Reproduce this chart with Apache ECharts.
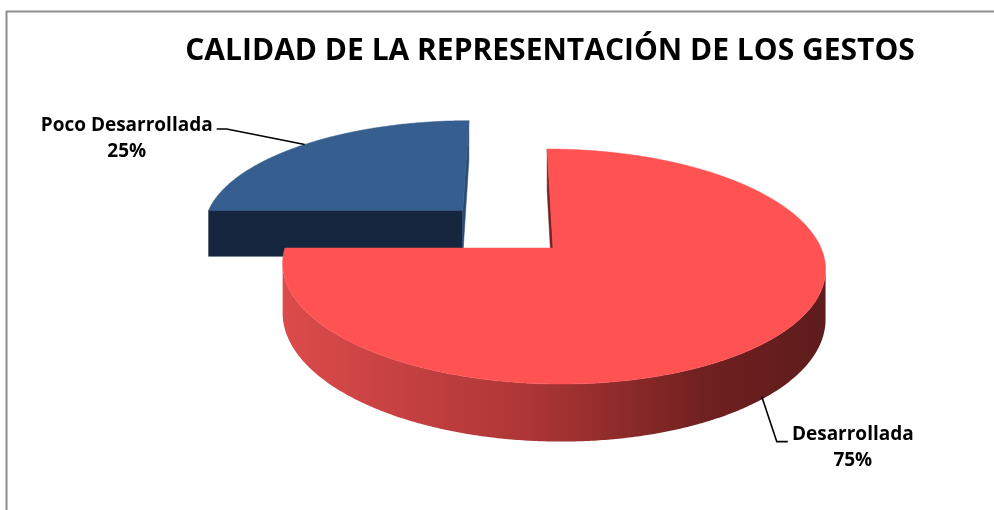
<!DOCTYPE html>
<html>
<head>
<meta charset="utf-8">
<script src="https://cdn.jsdelivr.net/npm/echarts@6/dist/echarts.min.js"></script>
<style>
html,body{margin:0;padding:0;background:#ffffff;}
#chart{width:994px;height:510px;}
</style>
</head>
<body>
<div id="chart"></div>
<script>
// ---------- data ----------
const categories = ['Desarrollada', 'Poco Desarrollada'];
const values = [75, 25];
const titleText = 'CALIDAD DE LA REPRESENTACIÓN DE LOS GESTOS';

// ---------- view / style config ----------
const VIEW = { cx: 553, cy: 248, vx: 510, rx: 268, ry: 114.6, k: 0.1575, h: 48.5, startDeg: -90 };
const FONT = '"Open Sans", "Liberation Sans", sans-serif';
const STYLE = {
  'Desarrollada': {
    explode: 0,
    top: '#FF5252',
    cutStart: '#7A2020',
    cutEnd: '#7A2020',
    wall: [
      { offset: 0, color: '#DC4B4B' },
      { offset: 0.45, color: '#AE3636' },
      { offset: 0.78, color: '#702020' },
      { offset: 1, color: '#5E1C1C' }
    ],
    label: { turn: 3, r: 1, z: 0.95, elbow: [15, 45], end: [26, 45], text: [91, 51] }
  },
  'Poco Desarrollada': {
    explode: 0.49,
    top: '#365F8F',
    cutStart: '#17263F',
    cutEnd: '#2D4B73',
    wall: [
      { offset: 0, color: '#2A4A70' },
      { offset: 1, color: '#17263F' }
    ],
    label: { turn: 0, r: 1, z: 0, elbow: [-78, -15.5], end: [-88, -15.5], text: [-178, -5.5] }
  }
};

// ---------- slice angles from values ----------
const total = values.reduce((a, b) => a + b, 0);
const startAngles = [], endAngles = [];
let acc = VIEW.startDeg;
values.forEach((v, i) => {
  startAngles.push(acc);
  acc += v / total * 360;
  endAngles.push(acc);
});
// draw back slices first
const order = categories.map((c, i) => i).sort((a, b) => {
  const ma = (startAngles[a] + endAngles[a]) / 2 * Math.PI / 180;
  const mb = (startAngles[b] + endAngles[b]) / 2 * Math.PI / 180;
  const ea = STYLE[categories[a]].explode, eb = STYLE[categories[b]].explode;
  return (ea * Math.sin(ma) + 0.5 * Math.sin(ma)) - (eb * Math.sin(mb) + 0.5 * Math.sin(mb));
});
const seriesData = order.map(i => ({ name: categories[i], value: [i, values[i], startAngles[i], endAngles[i]] }));

function proj(u, v, z) {
  const p = 1 / (1 - VIEW.k * v);
  return [VIEW.vx + (VIEW.cx + VIEW.rx * u - VIEW.vx) * p, VIEW.cy + (VIEW.ry * v + VIEW.h * z) * p];
}
const ucam = (VIEW.vx - VIEW.cx) / VIEW.rx, vcam = 1 / VIEW.k;
function visible(nu, nv, pu, pv) { return nu * (ucam - pu) + nv * (vcam - pv) > 0; }

function renderItem(params, api) {
  const idx = api.value(0);
  const name = categories[idx];
  const val = api.value(1);
  const a0 = api.value(2) * Math.PI / 180, a1 = api.value(3) * Math.PI / 180;
  const st = STYLE[name];
  const mid = (a0 + a1) / 2;
  const ou = st.explode * Math.cos(mid), ov = st.explode * Math.sin(mid);
  const P = (a, r, z) => proj(ou + r * Math.cos(a), ov + r * Math.sin(a), z);
  const N = Math.max(12, Math.ceil((a1 - a0) / (Math.PI / 360)));
  const children = [];

  // cut faces
  [[a0, Math.sin(a0), -Math.cos(a0), st.cutStart], [a1, -Math.sin(a1), Math.cos(a1), st.cutEnd]].forEach(f => {
    const a = f[0];
    const mu = ou + 0.5 * Math.cos(a), mv = ov + 0.5 * Math.sin(a);
    if (visible(f[1], f[2], mu, mv)) {
      children.push({ type: 'polygon', shape: { points: [P(a, 0, 0), P(a, 1, 0), P(a, 1, 1), P(a, 0, 1)] },
        style: { fill: f[3], stroke: f[3], lineWidth: 0.5 } });
    }
  });

  // outer wall
  const runs = [];
  let run = [];
  for (let i = 0; i <= N; i++) {
    const a = a0 + (a1 - a0) * i / N;
    if (visible(Math.cos(a), Math.sin(a), ou + Math.cos(a), ov + Math.sin(a))) run.push(a);
    else if (run.length) { runs.push(run); run = []; }
  }
  if (run.length) runs.push(run);
  runs.forEach(r => {
    if (r.length < 2) return;
    const pts = r.map(a => P(a, 1, 0)).concat(r.slice().reverse().map(a => P(a, 1, 1)));
    children.push({ type: 'polygon', shape: { points: pts },
      style: { fill: new echarts.graphic.LinearGradient(0, 0, 1, 0, st.wall) } });
  });

  // top face
  const topPts = [P(a0, 0, 0)];
  for (let i = 0; i <= N; i++) topPts.push(P(a0 + (a1 - a0) * i / N, 1, 0));
  children.push({ type: 'polygon', shape: { points: topPts }, style: { fill: st.top, stroke: st.top, lineWidth: 0.5 } });

  // label + leader
  const L = st.label;
  const anchor = P(mid + L.turn * Math.PI / 180, L.r, L.z);
  const elbow = [anchor[0] + L.elbow[0], anchor[1] + L.elbow[1]];
  const end = [anchor[0] + L.end[0], anchor[1] + L.end[1]];
  children.push({ type: 'polyline', shape: { points: [anchor, elbow, end] },
    style: { stroke: '#000000', lineWidth: 1.6, fill: null } });
  children.push({ type: 'text', x: anchor[0] + L.text[0], y: anchor[1] + L.text[1],
    style: { text: name + '\n' + Math.round(val / total * 100) + '%', align: 'center', verticalAlign: 'middle',
      fontFamily: FONT, fontWeight: 'bold', fontSize: 19, lineHeight: 26, fill: '#000000' } });

  return { type: 'group', children: children };
}

const chart = echarts.init(document.getElementById('chart'), null, { renderer: 'canvas' });
chart.setOption({
  animation: false,
  backgroundColor: '#ffffff',
  title: {
    text: titleText,
    left: 545,
    top: 31,
    textAlign: 'center',
    textStyle: { fontFamily: FONT, fontWeight: 'bold', fontSize: 30, color: '#000000' }
  },
  graphic: [{
    type: 'polyline',
    shape: { points: [[6.5, 510], [6.5, 11.5], [994, 11.5]] },
    style: { stroke: '#8E8E8E', lineWidth: 2, fill: null },
    silent: true
  }],
  series: [{
    type: 'custom',
    coordinateSystem: 'none',
    renderItem: renderItem,
    data: seriesData
  }]
});
</script>
</body>
</html>
